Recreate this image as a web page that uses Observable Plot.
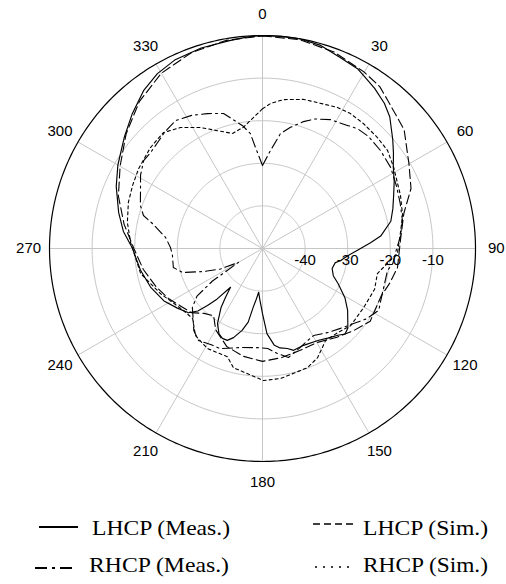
<!DOCTYPE html>
<html><head><meta charset="utf-8">
<script src="https://cdn.jsdelivr.net/npm/d3@7"></script>
<script src="https://cdn.jsdelivr.net/npm/@observablehq/plot@0.6"></script>
<style>
body{margin:0;background:#fff;}
#wrap{position:relative;width:506px;height:584px;overflow:hidden;}
#chart{position:absolute;left:0;top:0;}
#legend{position:absolute;left:0;top:495px;}
</style></head><body>
<div id="wrap"><div id="chart"></div><svg id="legend" width="506" height="89"></svg></div>
<script>
// ---- axis / tick values ----
const angleTicks = [0, 30, 60, 90, 120, 150, 180, 210, 240, 270, 300, 330];
const ringDb = [-40, -30, -20, -10];
const dbMin = -50, dbMax = 0;

// ---- series: LHCP (Meas.) ----
const lhcpMeasAngle = [0,5,10,16,22,28,30,35,40,44,50,54,58,63,68,73,78,84,87,91,95,99,101,106,111,115,121,126,133,136,139,144,149,157,163,166,170,173,177,180,183,185,187,189,191,194,198,201,204,207,211,215,217,219.5,222,224,226,229,235,242,251,260,265,270,277,284,293,300,309,316,323,329,335,343,351,356];
const lhcpMeasDb = [0,0,0,-0.4,-1.6,-2.3,-2.9,-4.1,-5.5,-7,-10.1,-12,-13.8,-15.3,-16.8,-18,-19.2,-22.1,-24.6,-27.7,-30,-31.5,-32.6,-33,-32.2,-30.4,-27.4,-25.3,-22.6,-22.1,-23,-24,-24.8,-25.3,-25,-25.8,-26.3,-27.1,-30,-34.7,-38,-39.7,-38,-36,-32.4,-30.2,-28,-26.9,-26.9,-27.5,-29.5,-33,-35.5,-38.2,-34,-31.4,-28.9,-27,-25.6,-23.8,-22.2,-20.9,-20.3,-19.5,-17.1,-15.2,-12.7,-10.8,-8.3,-6,-3.6,-2.1,-1.2,-0.8,-0.6,-0.2];

// ---- series: LHCP (Sim.) ----
const lhcpSimAngle = [0,10,20,30,36,40,50,60,68,76,87,98,105,112,124,132,140,150,160,170,180,190,200,210,216,222,228,235,242,250,260,270,280,290,300,310,320,330,340,350];
const lhcpSimDb = [-0.1,-0.2,-0.9,-2.2,-3.1,-4.4,-6.6,-10.3,-12.4,-15.8,-17.6,-18,-19,-20,-19.5,-21.2,-22.8,-24.5,-24.5,-24,-23.5,-24.3,-25.5,-28,-30.5,-29.5,-27.5,-26.5,-25,-23.5,-21.6,-19.8,-17,-14,-11.4,-8.2,-5,-2.5,-1.1,-0.4];

// ---- series: RHCP (Meas.) ----
const rhcpMeasAngle = [0,4.7,8.9,13,17.9,22,27.8,34.6,38.4,43.4,50.3,57.7,65,72,78.7,85,90,96.5,100,110,118,124,129.5,135.7,142,149.6,155,160,166.6,171.9,177,182.9,192.5,202.8,208,214.8,220,226,230,234,237,240,244,248.7,253.3,258,265.6,270.6,276.5,282.8,285.5,289.4,295.4,301,306.5,310.6,315.3,320,325.8,332,337.8,343.9,350.8,354,356];
const rhcpMeasDb = [-30.5,-26.9,-22.7,-20.8,-18.7,-17.2,-15.8,-14.9,-14.1,-13.8,-14,-14.4,-15.3,-16,-16.5,-17.5,-18.5,-19.2,-20.2,-20,-19.1,-20.5,-22.3,-23.8,-25,-26.3,-25.8,-25,-23.7,-25.1,-26.5,-26.7,-26.2,-24.5,-24.4,-23.7,-24.9,-27.3,-28.5,-31,-36,-43.5,-39,-35.1,-30.4,-28.6,-28.8,-28.4,-27.1,-23.5,-21,-19.6,-18.3,-16.6,-15.3,-15.4,-15,-14.3,-13.7,-14.6,-15.8,-17,-20.8,-22.9,-26.2];

// ---- series: RHCP (Sim.) ----
const rhcpSimAngle = [0,3.2,8,15.4,20.6,28,33.1,38.9,46,51.9,58.3,69,76.7,83.4,92,102.3,110,120.3,131.2,138,145.6,153.2,159.3,166,172,179.6,186.8,193.7,198,208.8,217.6,225,233.8,246.2,258.4,272.6,280.9,289,295.9,302.8,312,319.5,325.9,332.9,339.1,345.4,351,357.9];
const rhcpSimDb = [-17.2,-15.9,-14.7,-13.7,-13.4,-12.5,-12.2,-12.3,-12.5,-12.7,-13.8,-15.3,-16.2,-17.4,-18.3,-22.4,-22,-22.5,-22.5,-23.5,-23.8,-21.3,-20.1,-19.8,-19.2,-19,-20.4,-21.2,-23.3,-23.2,-24.2,-26.8,-26.2,-23.8,-20.8,-19,-17.7,-16.7,-16.1,-15.4,-14.6,-14.2,-15.7,-18.1,-20.4,-22.1,-21.2,-18.3];

// ---- legend labels ----
const seriesNames = ["LHCP (Meas.)", "LHCP (Sim.)", "RHCP (Meas.)", "RHCP (Sim.)"];

// ---- polar helpers (data -> x/y data space, then Plot scales) ----
const R = dbMax - dbMin;
const rad = a => a * Math.PI / 180;
const px = (a, db) => Math.max(0, db - dbMin) * Math.sin(rad(a));
const py = (a, db) => Math.max(0, db - dbMin) * Math.cos(rad(a));
function closed(angles, dbs) {
  const pts = angles.map((a, i) => ({x: px(a, dbs[i]), y: py(a, dbs[i])}));
  pts.push({...pts[0]});
  return pts;
}
function ring(db) {
  return d3.range(0, 361, 1).map(a => ({x: px(a, db), y: py(a, db), ring: db}));
}
const ringPts = ringDb.flatMap(ring);
const outerPts = ring(dbMax);

const series = [
  {pts: closed(lhcpMeasAngle, lhcpMeasDb), dash: null, w: 1.15},
  {pts: closed(lhcpSimAngle, lhcpSimDb), dash: "9,4", w: 1.1},
  {pts: closed(rhcpMeasAngle, rhcpMeasDb), dash: "10,4,2,4", w: 1.1},
  {pts: closed(rhcpSimAngle, rhcpSimDb), dash: "3,3", w: 1.1}
];

const labelR = 54.9;
const chart = Plot.plot({
  width: 506, height: 495,
  marginLeft: 49, marginRight: 31, marginTop: 35, marginBottom: 34,
  x: {domain: [-R, R], axis: null},
  y: {domain: [-R, R], axis: null},
  style: {background: "white", fontFamily: "'Liberation Sans', Arial, sans-serif", fontSize: "15px", color: "#000"},
  marks: [
    Plot.line(ringPts, {x: "x", y: "y", z: "ring", stroke: "#c6c6c6", strokeWidth: 1}),
    Plot.link(angleTicks, {x1: () => 0, y1: () => 0, x2: a => R * Math.sin(rad(a)), y2: a => R * Math.cos(rad(a)), stroke: "#c6c6c6", strokeWidth: 1}),
    Plot.line(outerPts, {x: "x", y: "y", stroke: "#000", strokeWidth: 1.2}),
    ...series.map(s => Plot.line(s.pts, {x: "x", y: "y", stroke: "#000", strokeWidth: s.w, strokeDasharray: s.dash, strokeLinejoin: "round"})),
    Plot.text(angleTicks, {x: a => labelR * Math.sin(rad(a)), y: a => labelR * Math.cos(rad(a)), text: a => String(a), fill: "#000", fontSize: 15}),
    Plot.text(ringDb, {x: d => d - dbMin, y: () => 0, dy: 12, text: d => String(d), fill: "#000", fontSize: 15})
  ]
});
document.getElementById("chart").appendChild(chart);

// ---- legend ----
const lg = d3.select("#legend");
const items = [
  {name: seriesNames[0], x1: 39, x2: 78, y: 32, dash: null, w: 2, tx: 92, ty: 40, len: 138},
  {name: seriesNames[1], x1: 313, x2: 355, y: 29, dash: "7,4", w: 1.4, tx: 363, ty: 40, len: 125},
  {name: seriesNames[2], x1: 35, x2: 72, y: 73, dash: "12,5,3,5", w: 2, tx: 89, ty: 77, len: 140},
  {name: seriesNames[3], x1: 315, x2: 350, y: 72, dash: "2,6", w: 1.6, tx: 363, ty: 77, len: 125}
];
for (const it of items) {
  lg.append("line").attr("x1", it.x1).attr("x2", it.x2).attr("y1", it.y).attr("y2", it.y)
    .attr("stroke", "#000").attr("stroke-width", it.w).attr("stroke-dasharray", it.dash);
  lg.append("text").attr("x", it.tx).attr("y", it.ty).text(it.name)
    .attr("textLength", it.len).attr("lengthAdjust", "spacingAndGlyphs")
    .attr("font-family", "'Liberation Serif', 'Times New Roman', serif").attr("font-size", 22).attr("fill", "#000");
}
</script>
</body></html>
